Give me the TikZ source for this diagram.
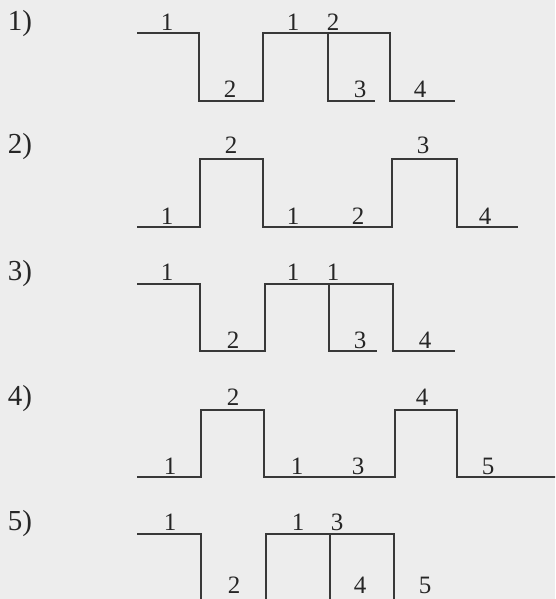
\documentclass[tikz,border=0pt]{standalone}
\usepackage{fontspec}
\setmainfont{Liberation Serif}
\begin{document}
\begin{tikzpicture}[
    x=1pt, y=-1pt,
    wave/.style={draw=black!78, line width=1.6pt, line join=miter},
    num/.style={
        font=\fontsize{25}{27}\selectfont, text=black!85,
        inner sep=0pt, text height=16.5pt, text depth=0pt
    },
    rowlbl/.style={
        font=\fontsize{29}{31}\selectfont, text=black!85,
        inner sep=0pt, text height=19.5pt, text depth=0pt
    }
]

% Hintergrund und Rahmen
\fill[black!7] (0,0) rectangle (555,599);
\useasboundingbox (0,0) rectangle (555,599);
\clip (0,0) rectangle (555,599);

% Zeile 1)
\node[rowlbl] (r1) at (20,21) {1)};
\draw[wave] (137,33) -| (199,101) -| (263,33) -- (390,33) |- (455,101);
\draw[wave] (328,33) |- (375,101);
\node[num] (a1) at (167,22) {1};
\node[num] (a2) at (230,89) {2};
\node[num] (a3) at (293,22) {1};
\node[num] (a4) at (333,22) {2};
\node[num] (a5) at (360,89) {3};
\node[num] (a6) at (420,89) {4};

% Zeile 2)
\node[rowlbl] (r2) at (20,144) {2)};
\draw[wave] (137,227) -| (200,159) -| (263,227) -| (392,159) -| (457,227) -- (518,227);
\node[num] (b1) at (167,216) {1};
\node[num] (b2) at (231,145) {2};
\node[num] (b3) at (293,216) {1};
\node[num] (b4) at (358,216) {2};
\node[num] (b5) at (423,145) {3};
\node[num] (b6) at (485,216) {4};

% Zeile 3)
\node[rowlbl] (r3) at (20,271) {3)};
\draw[wave] (137,284) -| (200,351) -| (265,284) -- (393,284) |- (455,351);
\draw[wave] (329,284) |- (377,351);
\node[num] (c1) at (167,272) {1};
\node[num] (c2) at (233,340) {2};
\node[num] (c3) at (293,272) {1};
\node[num] (c4) at (333,272) {1};
\node[num] (c5) at (360,340) {3};
\node[num] (c6) at (425,340) {4};

% Zeile 4)
\node[rowlbl] (r4) at (20,396) {4)};
\draw[wave] (137,477) -| (201,410) -| (264,477) -| (395,410) -| (457,477) -- (560,477);
\node[num] (d1) at (170,466) {1};
\node[num] (d2) at (233,397) {2};
\node[num] (d3) at (297,466) {1};
\node[num] (d4) at (358,466) {3};
\node[num] (d5) at (422,397) {4};
\node[num] (d6) at (488,466) {5};

% Zeile 5)
\node[rowlbl] (r5) at (20,521) {5)};
\draw[wave] (137,534) -| (201,610);
\draw[wave] (266,610) |- (394,534) -- (394,610);
\draw[wave] (330,534) -- (330,610);
\node[num] (e1) at (170,522) {1};
\node[num] (e2) at (234,585) {2};
\node[num] (e3) at (298,522) {1};
\node[num] (e4) at (337,522) {3};
\node[num] (e5) at (360,585) {4};
\node[num] (e6) at (425,585) {5};

\end{tikzpicture}
\end{document}
